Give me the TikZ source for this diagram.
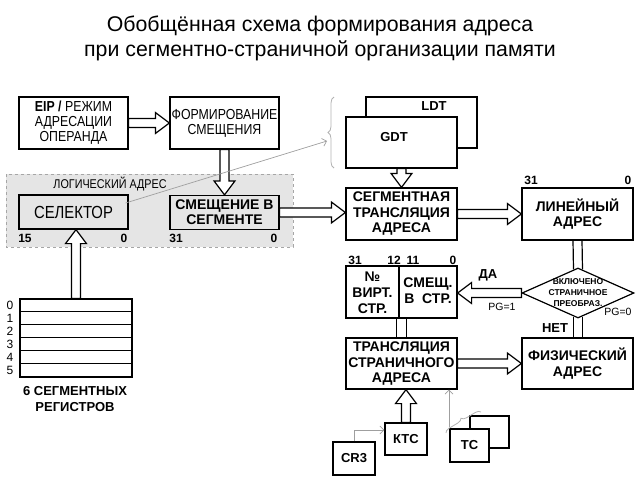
\documentclass[tikz,border=0pt]{standalone}
\usepackage{fontspec}
\setmainfont{Liberation Sans}
\newfontfamily\narrowfont[FakeStretch=0.85]{Liberation Sans}
\usetikzlibrary{arrows.meta,calc,shapes.geometric,decorations.pathreplacing}

\tikzset{
    box/.style={draw, line width=1.2pt, fill=white, minimum width=111pt, minimum height=52pt,
        inner sep=0pt, align=center, font=\bfseries\fontsize{14}{15.5}\selectfont},
    nbox/.style={box, font=\narrowfont\fontsize{14.5}{15}\selectfont},
    bits/.style={inner sep=0pt, font=\bfseries\fontsize{12}{12}\selectfont},
    note/.style={inner sep=0pt, font=\fontsize{10.5}{11}\selectfont},
    ptr/.style={draw=gray!75, line width=0.7pt, -{Straight Barb[length=4pt,width=8pt]}},
    fat/.style={draw, line width=1.2pt, fill=white, line join=miter},
    curly/.style={draw=gray!60, line width=0.8pt, decorate, decoration={brace,amplitude=6pt}}
}

% hollow block arrow from #1 to #2
\newcommand{\fatarrow}[2]{%
    \path (#1) coordinate (fa-a) (#2) coordinate (fa-b);
    \path ($(fa-b)!14pt!(fa-a)$) coordinate (fa-h);
    \draw[fat] ($(fa-a)!4.5pt!90:(fa-b)$) -- ($(fa-h)!4.5pt!90:(fa-b)$)
        -- ($(fa-h)!10.5pt!90:(fa-b)$) -- (fa-b) -- ($(fa-h)!10.5pt!-90:(fa-b)$)
        -- ($(fa-h)!4.5pt!-90:(fa-b)$) -- ($(fa-a)!4.5pt!-90:(fa-b)$) -- cycle;}

\begin{document}
\begin{tikzpicture}[x=1pt, y=-1pt]
    \useasboundingbox (0,0) rectangle (640,480);
    % title
    \node[font=\fontsize{21.3}{24}\selectfont] (title1) at (320,26) {Обобщённая схема формирования адреса};
    \node[font=\fontsize{21.3}{24}\selectfont] (title2) at (320,51) {при сегментно-страничной организации памяти};

    % logical address
    \draw[dashed, draw=gray!70, fill=gray!20, line width=0.8pt] (6,174) rectangle (293,247);
    \node[font=\narrowfont\fontsize{12.7}{13}\selectfont, inner sep=0pt] (logadr) at (110,184) {ЛОГИЧЕСКИЙ АДРЕС};
    \node[nbox, fill=none, minimum width=109pt, minimum height=34pt, font=\narrowfont\fontsize{17.5}{18}\selectfont] (sel) at (73.5,212) {СЕЛЕКТОР};
    \node[box, fill=none, minimum width=109pt, minimum height=34pt, font=\bfseries\fontsize{14}{15}\selectfont] (smesh) at (224.5,212.5) {СМЕЩЕНИЕ В\\СЕГМЕНТЕ};
    \node[bits] at (25,238) {15};
    \node[bits] at (124,238) {0};
    \node[bits] at (176,238) {31};
    \node[bits] at (274,238) {0};

    \node[nbox, minimum width=109pt] (eip) at (73.5,123) {\textbf{EIP /} РЕЖИМ\\АДРЕСАЦИИ\\ОПЕРАНДА};
    \node[nbox, minimum width=109pt] (form) at (224.5,123) {ФОРМИРОВАНИЕ\\СМЕЩЕНИЯ};

    % segment registers
    \node[draw, line width=1.2pt, minimum width=112pt, minimum height=78pt, inner sep=0pt] (regs) at (76,338) {};
    \foreach \i in {1,...,5}
        \draw[line width=1pt] (regs.north west) ++(0,13*\i) -- ++(112,0);
    \foreach \i in {0,...,5}
        \node[note, font=\fontsize{12}{12}\selectfont] at (10,{305.5+13*\i}) {\i};
    \node[align=center, inner sep=0pt, font=\bfseries\fontsize{13}{16}\selectfont] (regsname) at (75,399) {6 СЕГМЕНТНЫХ\\РЕГИСТРОВ};

    % descriptor tables
    \node[box, minimum height=51pt] (ldt) at (421.5,122.5) {};
    \node[bits, font=\bfseries\fontsize{13}{13}\selectfont] at (434,106) {LDT};
    \node[box, minimum height=51pt] (gdt) at (401.5,142.5) {};
    \node[bits, font=\bfseries\fontsize{13}{13}\selectfont] at (394,137) {GDT};
    \coordinate (brtip) at (327,141);
    \draw[curly] (334,168) -- (334,97);

    \node[box] (seg) at (401.5,214) {СЕГМЕНТНАЯ\\ТРАНСЛЯЦИЯ\\АДРЕСА};
    \node[box] (lin) at (577.5,214) {ЛИНЕЙНЫЙ\\АДРЕС};
    \node[bits] at (531,180) {31};
    \node[bits] at (628,180) {0};

    % paging
    \node[diamond, draw, line width=1.2pt, fill=white, shape aspect=2.24, inner sep=0pt,
        minimum width=112pt, minimum height=50pt] (dec) at (578,293) {};
    \node[align=center, inner sep=0pt, font=\bfseries\fontsize{8.5}{11}\selectfont] (dectext) at (dec) {ВКЛЮЧЕНО\\СТРАНИЧНОЕ\\ПРЕОБРАЗ.};
    \node[box] (virt) at (401.5,292) {};
    \draw[line width=1.2pt] (399,266) -- (399,318);
    \node[align=center, inner sep=0pt, font=\bfseries\fontsize{14}{16}\selectfont] (vnum) at (372.5,293) {№\\ВИРТ.\\СТР.};
    \node[align=center, inner sep=0pt, font=\bfseries\fontsize{14}{16}\selectfont] (voff) at (428,291) {СМЕЩ.\\В\ \ СТР.};
    \node[bits] at (355,260) {31};
    \node[bits] at (394,260) {12};
    \node[bits] at (413,260) {11};
    \node[bits] at (453,260) {0};
    \node[bits, font=\bfseries\fontsize{13}{13}\selectfont] at (488,275) {ДА};
    \node[bits, font=\bfseries\fontsize{13}{13}\selectfont] at (555,328) {НЕТ};
    \node[note] at (502,307) {PG=1};
    \node[note] at (618,312) {PG=0};

    \node[box, minimum height=51pt] (trans) at (401.5,363.5) {ТРАНСЛЯЦИЯ\\СТРАНИЧНОГО\\АДРЕСА};
    \node[box, minimum height=51pt] (phys) at (577.5,363.5) {ФИЗИЧЕСКИЙ\\АДРЕС};

    \node[box, minimum width=42pt, minimum height=32pt, font=\bfseries\fontsize{13}{13}\selectfont] (kts) at (406,439) {КТС};
    \node[box, minimum width=42pt, minimum height=33pt, font=\bfseries\fontsize{13}{13}\selectfont] (cr3) at (354,458.5) {CR3};
    \node[box, minimum width=39pt, minimum height=32pt] (tcback) at (489.5,432) {};
    \node[box, minimum width=39pt, minimum height=33pt, font=\bfseries\fontsize{13}{13}\selectfont] (tc) at (469.5,445.5) {TC};
    \coordinate (tcbr) at (449,427);
    \draw[curly, decoration={brace,amplitude=5pt}] (446,433) -- (481,412);

    % block arrows
    \fatarrow{eip.east}{form.west}
    \fatarrow{form.south}{smesh.north}
    \fatarrow{regs.north}{regs.north |- sel.south}
    \fatarrow{gdt.south}{seg.north}
    \fatarrow{smesh.east}{smesh.east -| seg.west}
    \fatarrow{seg.east}{lin.west}
    \fatarrow{dec.west}{dec.west -| virt.east}
    \fatarrow{trans.east}{phys.west}
    \fatarrow{kts.north}{kts.north |- trans.south}
    \draw[line width=1.2pt] ([xshift=-4.5pt]lin.south) -- ([xshift=-4.5pt,yshift=-2pt]dec.north)
        ([xshift=4.5pt]lin.south) -- ([xshift=4.5pt,yshift=-2pt]dec.north);
    \draw[line width=1.2pt] ([xshift=-4.5pt,yshift=2pt]dec.south) -- ([xshift=-4.5pt]dec.south |- phys.north)
        ([xshift=4.5pt,yshift=2pt]dec.south) -- ([xshift=4.5pt]dec.south |- phys.north);
    \draw[fat] ([xshift=-5pt]virt.south) rectangle ([xshift=5pt]virt.south |- trans.north);

    % thin pointers
    \draw[ptr] ([xshift=-3pt,yshift=9pt]sel.east) -- (brtip);
    \draw[ptr] (cr3.north) |- ([yshift=9pt]kts.west);
    \draw[ptr] (tcbr) -- (tcbr |- trans.south);
\end{tikzpicture}
\end{document}
